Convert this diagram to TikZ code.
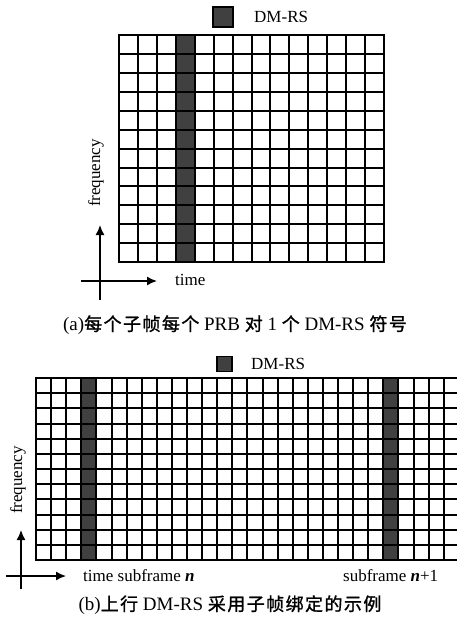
\documentclass[tikz,border=0pt]{standalone}
\usepackage{fontspec}
\setmainfont{Liberation Serif}
\newfontfamily\cjk[FakeBold=1.2,LetterSpace=8]{Noto Sans CJK SC}
\usetikzlibrary{arrows.meta}
\definecolor{dmrs}{HTML}{404040}
\tikzset{
  gridline/.style={line width=2pt, black, line cap=rect},
  darkcell/.style={fill=dmrs, draw=black, line width=1.5pt},
  axisarrow/.style={line width=1.5pt, -{Latex[length=10pt,width=9pt]}},
  lbl/.style={inner sep=0pt, font=\fontsize{17}{19}\selectfont},
  captxt/.style={inner sep=0pt, font=\fontsize{19}{21}\selectfont},
}
\newcommand\zh[1]{{\cjk\fontsize{18}{21}\selectfont #1}}
\begin{document}
\begin{tikzpicture}[x=1pt,y=-1pt]
\useasboundingbox[fill=white] (0,0) rectangle (457,629);
% ---------- (a) ----------
\def\ax{119}\def\ay{35}\def\ad{18.93}
\fill[dmrs] ({round(\ax+3*\ad)},{\ay}) rectangle ({round(\ax+4*\ad)},{round(\ay+12*\ad)});
\foreach \i in {0,...,14} \draw[gridline] ({round(\ax+\i*\ad)},{\ay}) -- ({round(\ax+\i*\ad)},{round(\ay+12*\ad)});
\foreach \j in {0,...,12} \draw[gridline] ({\ax},{round(\ay+\j*\ad)}) -- ({round(\ax+14*\ad)},{round(\ay+\j*\ad)});
\node[darkcell, minimum width=20pt, minimum height=20pt, inner sep=0pt] (lega) at (223,17) {};
\node[lbl, anchor=west] (lega-t) at (254,17) {DM-RS};
\coordinate (a-b) at (100,300);
\coordinate (a-l) at (81,281);
\coordinate (a-up) at (100,225);
\coordinate (a-r) at (157,281);
\draw[axisarrow] (a-b) -- (a-up);
\draw[axisarrow] (a-l) -- (a-r);
\node[lbl, rotate=90] (a-freq) at (96,173) {frequency};
\node[lbl, anchor=west] (a-time) at (175,280) {time};
\node[captxt] (capa) at (235,325) {(a)\zh{每个子帧每个} PRB \zh{对} 1 \zh{个} DM-RS \zh{符号}};
% ---------- (b) ----------
\def\bx{36}\def\by{378}\def\bd{15.1}\def\bh{15.17}
\fill[dmrs] ({round(\bx+3*\bd)},{\by}) rectangle ({round(\bx+4*\bd)},{round(\by+12*\bh)});
\fill[dmrs] ({round(\bx+23*\bd)},{\by}) rectangle ({round(\bx+24*\bd)},{round(\by+12*\bh)});
\foreach \i in {0,...,27} \draw[gridline] ({round(\bx+\i*\bd)},{\by}) -- ({round(\bx+\i*\bd)},{round(\by+12*\bh)});
\foreach \j in {0,...,12} \draw[gridline] ({\bx},{round(\by+\j*\bh)}) -- (459,{round(\by+\j*\bh)});
\node[darkcell, minimum width=15pt, minimum height=15pt, inner sep=0pt] (legb) at (224.5,364) {};
\node[lbl, anchor=west] (legb-t) at (251,364) {DM-RS};
\coordinate (b-b) at (21,589);
\coordinate (b-up) at (21,530);
\coordinate (b-l) at (6,576);
\coordinate (b-r) at (66,576);
\draw[axisarrow] (b-b) -- (b-up);
\draw[axisarrow] (b-l) -- (b-r);
\node[lbl, rotate=90] (b-freq) at (18,480) {frequency};
\node[lbl, anchor=west] (b-time) at (83,576) {time subframe \textbf{\textit{n}}};
\node[lbl, anchor=west] (b-sub) at (343,576) {subframe \textbf{\textit{n}}+1};
\node[captxt] (capb) at (230,605) {(b)\zh{上行} DM-RS \zh{采用子帧绑定的示例}};
\end{tikzpicture}
\end{document}
